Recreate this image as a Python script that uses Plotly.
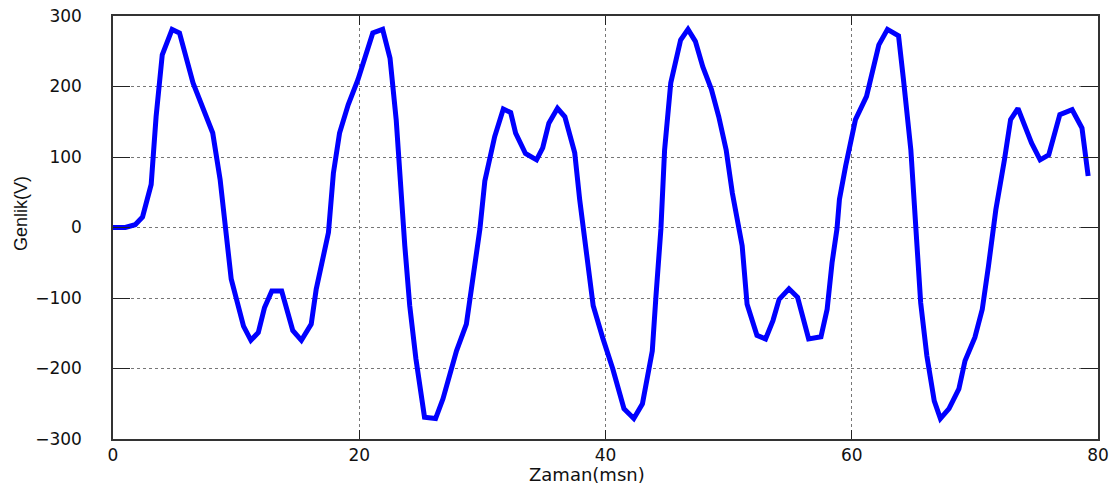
import plotly.graph_objects as go

time_ms = [0, 1.0, 1.8, 2.4, 3.1, 3.5, 4.0, 4.8, 5.4, 6.5, 8.1, 8.7, 9.6, 10.6, 11.2, 11.8,
           12.3, 12.9, 13.7, 14.2, 14.6, 15.3, 16.1, 16.5, 17.1, 17.5, 17.9, 18.4, 19.1,
           19.9, 21.1, 21.9, 22.5, 23.0, 23.7, 24.1, 24.6, 25.3, 26.2, 26.8, 27.9, 28.7,
           29.1, 29.8, 30.2, 31.0, 31.7, 32.3, 32.7, 33.5, 34.4, 34.9, 35.4, 36.1, 36.7,
           37.5, 37.9, 38.4, 38.6, 39.0, 39.8, 40.6, 41.5, 42.3, 43.0, 43.8, 44.1, 44.5,
           44.8, 45.3, 46.1, 46.7, 47.3, 47.9, 48.6, 49.2, 49.8, 50.3, 51.1, 51.5, 52.3,
           53.0, 53.6, 54.1, 54.9, 55.6, 56.5, 57.5, 58.0, 58.4, 58.8, 59.0, 59.5, 60.3,
           61.2, 62.2, 62.9, 63.8, 64.2, 64.8, 65.3, 65.6, 66.1, 66.7, 67.2, 67.9, 68.7,
           69.2, 70.0, 70.6, 71.1, 71.5, 71.7, 72.4, 72.9, 73.5, 74.1, 74.6, 75.3, 76.0,
           76.9, 77.9, 78.7, 79.2]
amplitude_v = [0, 0, 4, 15, 61, 157, 245, 281, 276, 205, 134, 68, -73, -140, -160, -149,
               -114, -90, -90, -118, -146, -160, -137, -88, -41, -7, 77, 134, 174,
               210, 276, 281, 240, 153, -26, -111, -186, -269, -271, -243, -175, -137,
               -88, -2, 66, 129, 168, 163, 134, 105, 96, 113, 148, 169, 157,
               106, 40, -26, -50, -111, -158, -201, -257, -271, -250, -175, -97, -2,
               110, 205, 266, 281, 264, 228, 196, 157, 110, 49, -26, -109, -153,
               -158, -132, -102, -87, -99, -158, -155, -116, -50, -2, 40, 87, 153,
               186, 259, 281, 272, 210, 110, -26, -107, -182, -246, -271, -257, -229,
               -189, -156, -116, -55, -2, 25, 96, 153, 169, 143, 120, 96, 103,
               160, 167, 141, 73]

x_ticks = [0, 20, 40, 60, 80]
y_ticks = [-300, -200, -100, 0, 100, 200, 300]

fig = go.Figure()
fig.add_trace(go.Scatter(x=time_ms, y=amplitude_v, mode="lines",
                         line=dict(color="#0000FF", width=5), showlegend=False))

tick_font = dict(family="DejaVu Sans", size=17, color="#111111")
fig.update_xaxes(range=[0, 80], tickvals=x_ticks, ticks="inside", ticklen=9,
                 tickcolor="#222222", showline=True, linecolor="#333333", linewidth=1.5,
                 mirror="ticks", showgrid=True, gridcolor="#777777", griddash="dot",
                 gridwidth=1, zeroline=False, tickfont=tick_font, ticklabelstandoff=0,
                 ticklabeloverflow="allow", automargin=False)
fig.update_yaxes(range=[-300, 300], tickvals=y_ticks, ticks="inside", ticklen=17,
                 tickcolor="#222222", showline=True, linecolor="#333333", linewidth=1.5,
                 mirror="ticks", showgrid=True, gridcolor="#777777", griddash="dot",
                 gridwidth=1, zeroline=False, tickfont=tick_font, ticklabelstandoff=26,
                 ticklabeloverflow="allow", automargin=False)

fig.add_annotation(text="Zaman(msn)", xref="paper", yref="paper", x=0.481, y=-0.083,
                   xanchor="center", yanchor="middle", showarrow=False,
                   font=dict(family="DejaVu Sans", size=18, color="#111111"))
fig.add_annotation(text="Genlik(V)", xref="paper", yref="paper", x=-0.0934, y=0.532,
                   xanchor="center", yanchor="middle", textangle=-90, showarrow=False,
                   font=dict(family="Liberation Sans", size=18, color="#111111"))

fig.update_layout(width=1116, height=485, margin=dict(l=113, r=18, t=16, b=46),
                  plot_bgcolor="white", paper_bgcolor="white")
fig.write_html("out.html", config={"displayModeBar": False},
               post_script="document.body.style.margin='0';document.body.style.overflow='hidden';")
